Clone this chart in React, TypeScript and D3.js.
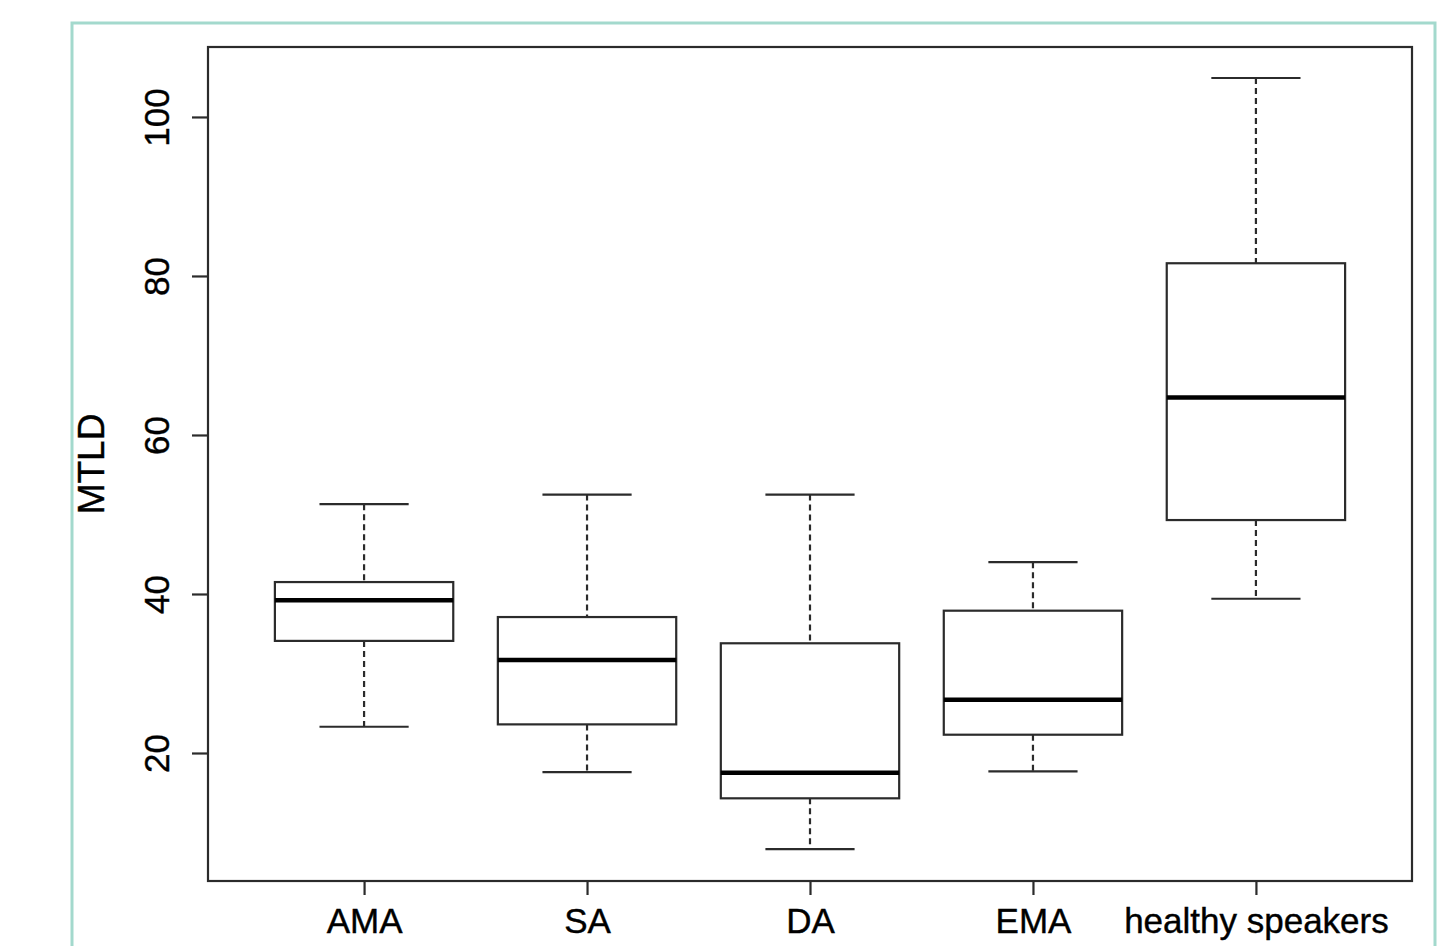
import { useEffect, useRef } from "react";
import * as d3 from "d3";

// ── Data ───────────────────────────────────────────────────────────────────────
const groups = ["AMA", "SA", "DA", "EMA", "healthy speakers"];
const whiskerLow = [23.3, 17.6, 7.9, 17.7, 39.4];
const q1 = [34.1, 23.6, 14.3, 22.3, 49.3];
const median = [39.2, 31.7, 17.5, 26.7, 64.7];
const q3 = [41.5, 37.1, 33.8, 37.9, 81.6];
const whiskerHigh = [51.3, 52.5, 52.5, 44.0, 104.9];
const yTickValues = [20, 40, 60, 80, 100];

export default function App() {
  const svgRef = useRef<SVGSVGElement>(null);

  useEffect(() => {
    if (!svgRef.current) return;

    // ── Dimensions ─────────────────────────────────────────────────────────────
    const plot = { left: 208, right: 1412, top: 47, bottom: 881 };
    const ink = "#2b2b2b";
    const font = "Liberation Sans, Arial, sans-serif";

    // ── Scales (R style: 4% padding) ───────────────────────────────────────────
    const x = d3.scaleLinear().domain([0.3, 5.7]).range([plot.left, plot.right]);
    const y = d3.scaleLinear().domain([3.9, 108.8]).range([plot.bottom, plot.top]);

    const svg = d3.select(svgRef.current);
    svg.selectAll("*").remove();

    // ── Outer teal frame ───────────────────────────────────────────────────────
    svg
      .append("rect")
      .attr("x", 72)
      .attr("y", 23)
      .attr("width", 1363)
      .attr("height", 960)
      .attr("fill", "none")
      .attr("stroke", "#a3d9cd")
      .attr("stroke-width", 3);

    // ── Boxes ──────────────────────────────────────────────────────────────────
    const boxHalf = x(0.4) - x(0);
    const capHalf = x(0.2) - x(0);

    groups.forEach((_name, i) => {
      const cx = x(i + 1);
      const g = svg.append("g").attr("class", "box");

      // whiskers (dashed)
      [
        [whiskerHigh[i], q3[i]],
        [q1[i], whiskerLow[i]],
      ].forEach(([a, b]) => {
        g.append("line")
          .attr("x1", cx)
          .attr("x2", cx)
          .attr("y1", y(a))
          .attr("y2", y(b))
          .attr("stroke", ink)
          .attr("stroke-width", 2.2)
          .attr("stroke-dasharray", "6 4");
      });

      // caps
      [whiskerHigh[i], whiskerLow[i]].forEach((v) => {
        g.append("line")
          .attr("x1", cx - capHalf)
          .attr("x2", cx + capHalf)
          .attr("y1", y(v))
          .attr("y2", y(v))
          .attr("stroke", ink)
          .attr("stroke-width", 2.2);
      });

      // box
      g.append("rect")
        .attr("x", cx - boxHalf)
        .attr("y", y(q3[i]))
        .attr("width", boxHalf * 2)
        .attr("height", y(q1[i]) - y(q3[i]))
        .attr("fill", "white")
        .attr("stroke", ink)
        .attr("stroke-width", 2.2);

      // median
      g.append("line")
        .attr("x1", cx - boxHalf)
        .attr("x2", cx + boxHalf)
        .attr("y1", y(median[i]))
        .attr("y2", y(median[i]))
        .attr("stroke", "black")
        .attr("stroke-width", 4.5);
    });

    // ── Plot frame ─────────────────────────────────────────────────────────────
    svg
      .append("rect")
      .attr("x", plot.left)
      .attr("y", plot.top)
      .attr("width", plot.right - plot.left)
      .attr("height", plot.bottom - plot.top)
      .attr("fill", "none")
      .attr("stroke", ink)
      .attr("stroke-width", 2.2);

    // ── X axis ─────────────────────────────────────────────────────────────────
    const xAxisG = svg
      .append("g")
      .attr("transform", `translate(0,${plot.bottom})`)
      .call(
        d3
          .axisBottom(x)
          .tickValues([1, 2, 3, 4, 5])
          .tickFormat((d) => groups[(d as number) - 1])
          .tickSizeInner(14)
          .tickSizeOuter(0)
          .tickPadding(14)
      );
    xAxisG.select(".domain").remove();
    xAxisG.selectAll(".tick line").attr("stroke", ink).attr("stroke-width", 2.2);
    xAxisG
      .selectAll("text")
      .attr("fill", "black")
      .attr("stroke", "black")
      .attr("stroke-width", 0.4)
      .attr("font-family", font)
      .attr("font-size", 35)
      .attr("dy", "0.69em");

    // ── Y axis ─────────────────────────────────────────────────────────────────
    const yAxisG = svg
      .append("g")
      .attr("transform", `translate(${plot.left},0)`)
      .call(d3.axisLeft(y).tickValues(yTickValues).tickSizeInner(16).tickSizeOuter(0));
    yAxisG.select(".domain").remove();
    yAxisG.selectAll(".tick line").attr("stroke", ink).attr("stroke-width", 2.2);
    yAxisG
      .selectAll("text")
      .attr("fill", "black")
      .attr("stroke", "black")
      .attr("stroke-width", 0.4)
      .attr("font-family", font)
      .attr("font-size", 35)
      .attr("text-anchor", "middle")
      .attr("x", null)
      .attr("dy", null)
      .attr("transform", "translate(-39,0) rotate(-90)");

    // Y label
    svg
      .append("text")
      .attr("transform", `translate(104,${(plot.top + plot.bottom) / 2}) rotate(-90)`)
      .attr("text-anchor", "middle")
      .attr("fill", "black")
      .attr("stroke", "black")
      .attr("stroke-width", 0.4)
      .attr("font-family", font)
      .attr("font-size", 37)
      .text("MTLD");
  }, []);

  return (
    <svg
      ref={svgRef}
      width={1445}
      height={946}
      viewBox="0 0 1445 946"
      style={{ position: "absolute", left: 0, top: 0, background: "white" }}
    />
  );
}
